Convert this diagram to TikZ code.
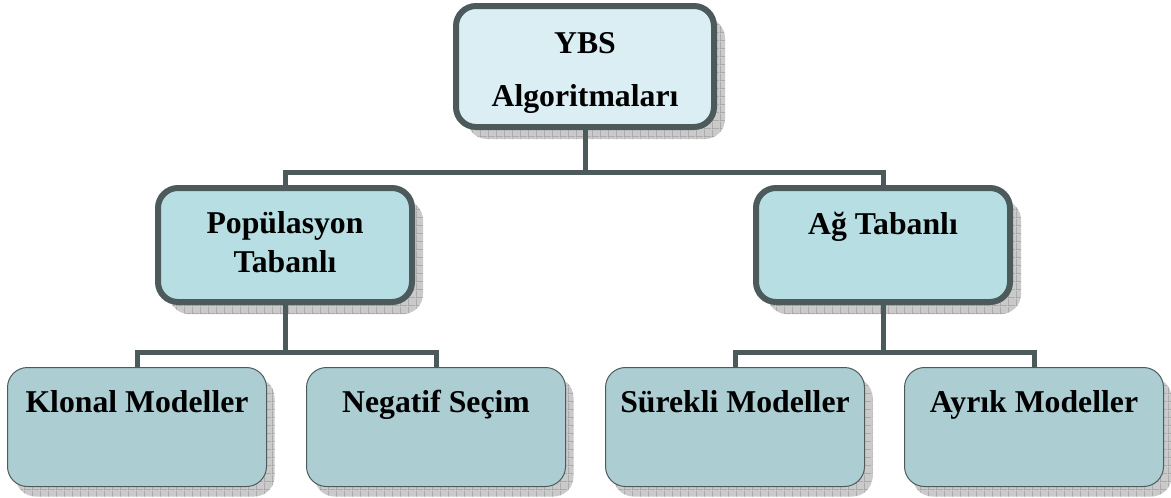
\documentclass[tikz,border=0pt]{standalone}
\usepackage{fontspec}
\setmainfont{Liberation Serif}
\usetikzlibrary{shadows,patterns}

% fine grid used inside the drop shadows
\pgfdeclarepatternformonly{shadowgrid}{\pgfqpoint{0pt}{0pt}}{\pgfqpoint{6pt}{6pt}}{\pgfqpoint{6pt}{6pt}}{%
  \pgfsetlinewidth{0.5pt}%
  \pgfpathmoveto{\pgfqpoint{0pt}{0.25pt}}\pgfpathlineto{\pgfqpoint{6pt}{0.25pt}}%
  \pgfpathmoveto{\pgfqpoint{0.25pt}{0pt}}\pgfpathlineto{\pgfqpoint{0.25pt}{6pt}}%
  \pgfusepath{stroke}}

\definecolor{edgegray}{HTML}{4D5A5C}
\definecolor{rootfill}{HTML}{DBEEF3}
\definecolor{midfill}{HTML}{B7DFE3}
\definecolor{leaffill}{HTML}{ACCED2}
\definecolor{shadefill}{HTML}{CACACA}
\definecolor{shadegrid}{HTML}{9C9C9C}

\tikzset{
  gridshadow/.style 2 args={
    general shadow={shadow xshift=#1, shadow yshift=#2, fill=shadefill},
    general shadow={shadow xshift=#1, shadow yshift=#2, pattern=shadowgrid, pattern color=shadegrid}},
  thickbox/.style={draw=edgegray, line width=4.5pt, rounded corners=15pt,
    gridshadow={8.25pt}{-9pt}},
  leafbox/.style={draw=edgegray, line width=0.75pt, rounded corners=15pt, fill=leaffill,
    minimum width=194.25pt, minimum height=89.25pt, inner sep=0pt,
    gridshadow={6pt}{-7.5pt}},
  label/.style={anchor=base, inner sep=0pt, font=\fontsize{23.8}{28}\selectfont\bfseries},
  conn/.style={draw=edgegray, line width=3.75pt}
}

\begin{document}
\begin{tikzpicture}[x=0.75pt, y=-0.75pt]
\useasboundingbox (0,0) rectangle (1171,497);

% boxes
\node[thickbox, fill=rootfill, minimum width=193.5pt, minimum height=90.75pt, inner sep=0pt] (ybs) at (585,66.5) {};
\node[thickbox, fill=midfill, minimum width=190.5pt, minimum height=85.5pt, inner sep=0pt] (pop) at (285,245) {};
\node[thickbox, fill=midfill, minimum width=190.5pt, minimum height=85.5pt, inner sep=0pt] (ag) at (883,245) {};
\node[leafbox] (klon) at (137,427) {};
\node[leafbox] (neg) at (436,427) {};
\node[leafbox] (sur) at (735,427) {};
\node[leafbox] (ayr) at (1034,427) {};

% connectors
\coordinate (j1) at (585,172);
\coordinate (j2) at (285,352);
\coordinate (j3) at (883,352);
\draw[conn] (ybs.south) -- (j1);
\draw[conn] (pop.north) |- (j1);
\draw[conn] (ag.north) |- (j1);
\draw[conn] (pop.south) -- (j2);
\draw[conn] (klon.north) |- (j2);
\draw[conn] (neg.north) |- (j2);
\draw[conn] (ag.south) -- (j3);
\draw[conn] (sur.north) |- (j3);
\draw[conn] (ayr.north) |- (j3);

% texts
\node[label] (t1) at (585,53) {YBS};
\node[label] (t2) at (585,106) {Algoritmaları};
\node[label] (t3) at (285,233) {Popülasyon};
\node[label] (t4) at (285,272) {Tabanlı};
\node[label] (t5) at (883,234) {Ağ Tabanlı};
\node[label] (t6) at (137,412) {Klonal Modeller};
\node[label] (t7) at (436,412) {Negatif Seçim};
\node[label] (t8) at (735,412) {Sürekli Modeller};
\node[label] (t9) at (1034,412) {Ayrık Modeller};
\end{tikzpicture}
\end{document}
